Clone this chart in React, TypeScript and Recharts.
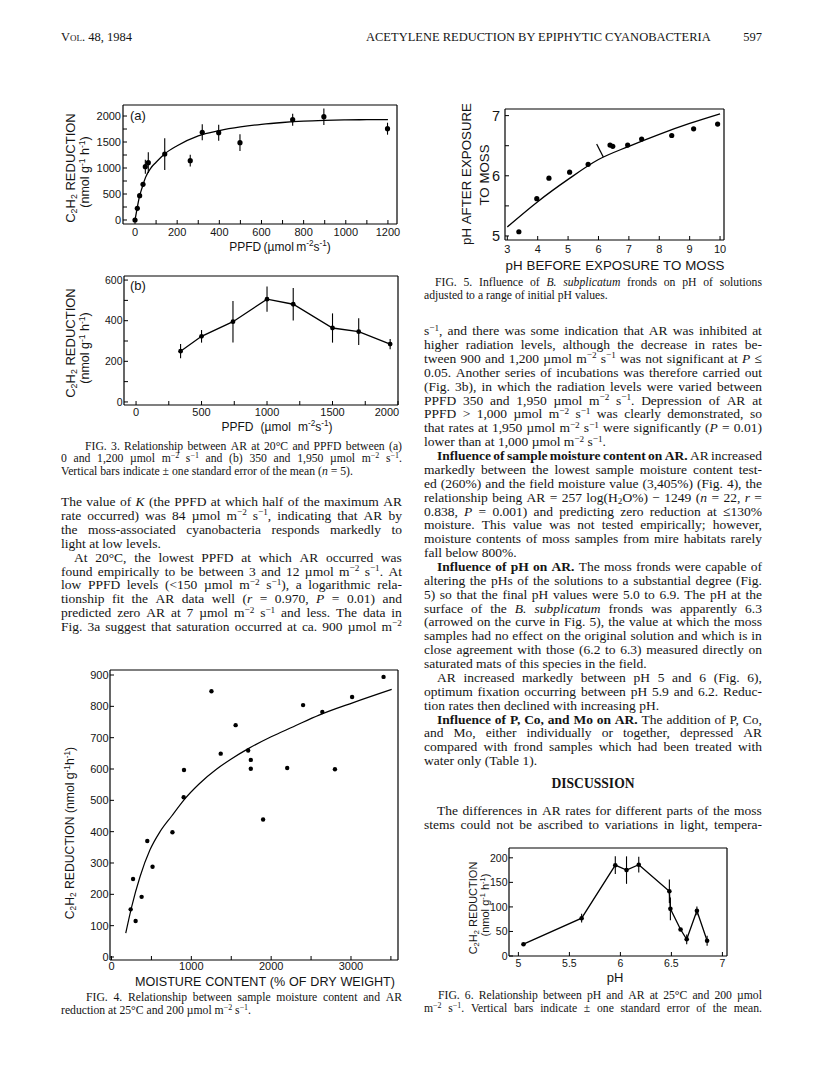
import React from 'react';
import { ComposedChart, Scatter, Line, XAxis, YAxis, ErrorBar, ReferenceLine } from 'recharts';

// ---------------- DATA ----------------
// Fig. 3a : AR vs PPFD (0 - 1,200)
const fig3aPpfd = [0, 11, 22, 38, 49, 63, 141, 262, 319, 397, 498, 748, 896, 1198];
const fig3aAr = [0, 224, 468, 686, 1026, 1103, 1269, 1141, 1686, 1679, 1487, 1929, 1987, 1756];
const fig3aSe = [0, 0, 0, 40, 135, 200, 305, 112, 154, 154, 160, 115, 160, 115];
const fig3aCurvePpfd = [0, 10, 20, 35, 50, 75, 100, 140, 200, 300, 400, 500, 600, 700, 800, 900, 1000, 1100, 1200];
const fig3aCurveAr = [0, 224, 430, 640, 820, 1000, 1110, 1269, 1429, 1620, 1720, 1790, 1840, 1875, 1900, 1915, 1925, 1930, 1932];
const fig3aXMajor = [0, 200, 400, 600, 800, 1000, 1200];
const fig3aXLabels = ['0', '200', '400', '600', '800', '1000', '1200'];
const fig3aXMinor = [100, 300, 500, 700, 900, 1100];
const fig3aYMajor = [0, 500, 1000, 1500, 2000];
const fig3aYLabels = ['0', '500', '1000', '1500', '2000'];
const fig3aYMinor = [250, 750, 1250, 1750];

// Fig. 3b : AR vs PPFD (350 - 1,950)
const fig3bPpfd = [340, 500, 740, 1000, 1200, 1500, 1700, 1940];
const fig3bAr = [250, 323, 395, 506, 481, 364, 346, 285];
const fig3bSe = [35, 31, 102, 62, 80, 72, 66, 25];
const fig3bXMajor = [0, 500, 1000, 1500, 2000];
const fig3bXLabels = ['0', '500', '1000', '1500', '2000'];
const fig3bXMinor = [250, 750, 1250, 1750];
const fig3bYMajor = [0, 200, 400, 600];
const fig3bYLabels = ['0', '200', '400', '600'];
const fig3bYMinor = [100, 300, 500];

// Fig. 4 : AR vs moisture content
const fig4Moisture = [3408, 1252, 3014, 2400, 2641, 1555, 1368, 1712, 1745, 1745, 908, 2201, 2799, 904, 1899, 763, 448, 514, 270, 377, 240, 302];
const fig4Ar = [894, 848, 830, 804, 782, 740, 649, 659, 629, 601, 597, 603, 599, 510, 439, 398, 370, 288, 249, 192, 152, 115];
const fig4CurveMoisture = [178, 253, 357, 482, 608, 754, 906, 1100, 1318, 1500, 1714, 2000, 2278, 2600, 3029, 3510];
const fig4CurveAr = [76, 161, 256, 342, 400, 450, 501, 553, 600, 632, 665, 703, 735, 772, 812, 854];
const fig4XMajor = [0, 1000, 2000, 3000];
const fig4XLabels = ['0', '1000', '2000', '3000'];
const fig4XMinor = [500, 1500, 2500, 3500];
const fig4YMajor = [0, 100, 200, 300, 400, 500, 600, 700, 800, 900];
const fig4YLabels = ['0', '100', '200', '300', '400', '500', '600', '700', '800', '900'];

// Fig. 5 : pH after vs pH before exposure
const fig5Before = [3.38, 3.97, 4.37, 5.05, 5.66, 6.38, 6.47, 6.96, 7.42, 8.41, 9.13, 9.92];
const fig5After = [5.07, 5.62, 5.96, 6.06, 6.19, 6.51, 6.49, 6.51, 6.61, 6.67, 6.78, 6.86];
const fig5CurveBefore = [3, 4, 5, 6, 7, 8, 9, 10];
const fig5CurveAfter = [5.15, 5.57, 5.94, 6.27, 6.49, 6.69, 6.87, 7.03];
const fig5ArrowBefore = [5.94, 6.16];
const fig5ArrowAfter = [6.53, 6.31];
const fig5XMajor = [3, 4, 5, 6, 7, 8, 9, 10];
const fig5XLabels = ['3', '4', '5', '6', '7', '8', '9', '10'];
const fig5YMajor = [5, 6, 7];
const fig5YLabels = ['5', '6', '7'];
const fig5YMinor = [5.5, 6.5];

// Fig. 6 : AR vs pH
const fig6Ph = [5.05, 5.62, 5.95, 6.06, 6.18, 6.48, 6.49, 6.59, 6.65, 6.75, 6.85];
const fig6Ar = [24, 77, 185, 175, 186, 132, 96, 54, 34, 92, 31];
const fig6Se = [2, 9, 18, 28, 16, 24, 23, 3, 10, 9, 10];
const fig6XMajor = [5, 5.5, 6, 6.5, 7];
const fig6XLabels = ['5', '5.5', '6', '6.5', '7'];
const fig6YMajor = [0, 50, 100, 150, 200];
const fig6YLabels = ['0', '50', '100', '150', '200'];

// ---------------- helpers ----------------
const SANS = '"Liberation Sans", Arial, sans-serif';
const SERIF = '"Liberation Serif", "Times New Roman", serif';
const INK = '#141414';

const zip = (xs: number[], ys: number[], es?: number[]) =>
  xs.map((x, i) => ({ x, y: ys[i], e: es ? es[i] : 0 }));

function rich(src: string) {
  let bold = false;
  let ital = false;
  const words = src.split(' ').filter((w) => w.length > 0);
  return words.map((w, wi) => {
    const segs: React.ReactNode[] = [];
    let buf = '';
    let k = 0;
    const st = (): React.CSSProperties => ({ fontWeight: bold ? 700 : 400, fontStyle: ital ? 'italic' : 'normal' });
    const flush = () => {
      if (buf) {
        segs.push(<span key={k++} style={st()}>{buf}</span>);
        buf = '';
      }
    };
    for (let i = 0; i < w.length; ) {
      const c = w[i];
      if (c === '*') { flush(); ital = !ital; i++; continue; }
      if (c === '#') { flush(); bold = !bold; i++; continue; }
      if ((c === '^' || c === '_') && w[i + 1] === '{') {
        flush();
        const end = w.indexOf('}', i);
        const inner = w.slice(i + 2, end);
        segs.push(
          <span key={k++} style={{ ...st(), fontSize: '0.68em', lineHeight: 0, position: 'relative', top: c === '^' ? '-0.5em' : '0.25em' }}>{inner}</span>
        );
        i = end + 1;
        continue;
      }
      buf += c;
      i++;
    }
    flush();
    return <span key={wi} style={{ whiteSpace: 'nowrap' }}>{segs}</span>;
  });
}

function TL({ x, w, y, size, text, j = false, lh = 13, center = false, font = SERIF, gap }: {
  x: number; w: number; y: number; size: number; text: string; j?: boolean; lh?: number; center?: boolean; font?: string; gap?: string;
}) {
  return (
    <div style={{
      position: 'absolute', left: x, top: y - lh / 2, width: w, height: lh, lineHeight: lh + 'px',
      fontSize: size, fontFamily: font, color: INK, display: 'flex', alignItems: 'baseline',
      justifyContent: center ? 'center' : j ? 'space-between' : 'flex-start',
      gap: gap ?? (j ? '0.14em' : '0.25em'), whiteSpace: 'nowrap',
    }}>{rich(text)}</div>
  );
}

function VT({ cx, cy, size, text }: { cx: number; cy: number; size: number; text: string }) {
  return (
    <div style={{
      position: 'absolute', left: cx, top: cy, transform: 'translate(-50%, -50%) rotate(-90deg)',
      fontFamily: SANS, fontSize: size, color: INK, whiteSpace: 'nowrap', lineHeight: 1,
      display: 'flex', gap: '0.28em', alignItems: 'baseline',
    }}>{rich(text)}</div>
  );
}

type LineSpec = [number, boolean, string];
function Para({ x, w, y0, step, size, lines }: { x: number; w: number; y0: number; step: number; size: number; lines: LineSpec[] }) {
  return (
    <>
      {lines.map(([ind, j, t], i) => (
        <TL key={i} x={x + ind} w={w - ind} y={y0 + i * step} size={size} j={j} text={t} lh={Math.min(13, step - 0.6)} />
      ))}
    </>
  );
}

type AxisSpec = { domain: [number, number]; major: number[]; labels: string[]; minor: number[]; font: number; gap: number; lastShift?: number };
type FrameSpec = { x0: number; y0: number; x1: number; y1: number; yw: number; xh: number; tickLen: number; x: AxisSpec; y: AxisSpec };

function layout(f: FrameSpec) {
  const mt = 8;
  const mr = 14;
  return {
    style: { position: 'absolute', left: f.x0 - f.yw, top: f.y0 - mt - 1 } as React.CSSProperties,
    width: f.yw + (f.x1 - f.x0) + 1 + mr,
    height: mt + 1 + (f.y1 - f.y0) + f.xh,
    margin: { top: mt, right: mr, bottom: 0, left: 0 },
  };
}

function tickRenderer(spec: AxisSpec, side: 'x' | 'y') {
  return (p: any) => {
    const v = p.payload.value;
    const idx = spec.major.findIndex((m) => Math.abs(m - v) < 1e-9);
    if (idx < 0) return <g />;
    const shift = side === 'x' && idx === spec.major.length - 1 ? spec.lastShift ?? 0 : 0;
    return (
      <text x={p.x + shift} y={p.y} dy="0.36em" textAnchor={side === 'x' ? 'middle' : 'end'} fontSize={spec.font} fontFamily={SANS} fill={INK}>
        {spec.labels[idx]}
      </text>
    );
  };
}

function frameAxes(f: FrameSpec) {
  const xt = [...f.x.major, ...f.x.minor].sort((a, b) => a - b);
  const yt = [...f.y.major, ...f.y.minor].sort((a, b) => a - b);
  const line = { stroke: '#000', strokeWidth: 1.2 };
  const tl = { stroke: '#000', strokeWidth: 1 };
  return [
    <XAxis key="xb" xAxisId="b" type="number" dataKey="x" domain={f.x.domain} ticks={xt} interval={0} allowDataOverflow
      height={f.xh} tickSize={-f.tickLen} tickMargin={f.tickLen + f.x.gap} tick={tickRenderer(f.x, 'x')} axisLine={line} tickLine={tl} />,
    <XAxis key="xt" xAxisId="t" orientation="top" type="number" dataKey="x" domain={f.x.domain} ticks={xt} interval={0} allowDataOverflow
      height={1} tickSize={-f.tickLen} tick={false} axisLine={line} tickLine={tl} />,
    <YAxis key="yl" yAxisId="l" type="number" domain={f.y.domain} ticks={yt} interval={0} allowDataOverflow
      width={f.yw} tickSize={-f.tickLen} tickMargin={f.tickLen + f.y.gap} tick={tickRenderer(f.y, 'y')} axisLine={line} tickLine={tl} />,
    <YAxis key="yr" yAxisId="r" orientation="right" type="number" domain={f.y.domain} ticks={yt} interval={0} allowDataOverflow
      width={1} tickSize={-f.tickLen} tick={false} axisLine={line} tickLine={tl} />,
  ];
}

const dot = (r: number) => (p: any) => <circle cx={p.cx} cy={p.cy} r={r} fill="#000" />;

// ---------------- chart frames ----------------
const f3a: FrameSpec = {
  x0: 123, y0: 105, x1: 397, y1: 224, yw: 42, xh: 24, tickLen: 4,
  x: { domain: [-57, 1243], major: fig3aXMajor, labels: fig3aXLabels, minor: fig3aXMinor, font: 11, gap: 8 },
  y: { domain: [-77, 2212], major: fig3aYMajor, labels: fig3aYLabels, minor: fig3aYMinor, font: 11, gap: 2 },
};
const f3b: FrameSpec = {
  x0: 124, y0: 276, x1: 398, y1: 405, yw: 42, xh: 24, tickLen: 4,
  x: { domain: [-92, 2000], major: fig3bXMajor, labels: fig3bXLabels, minor: fig3bXMinor, font: 11, gap: 7, lastShift: -11 },
  y: { domain: [-15, 620], major: fig3bYMajor, labels: fig3bYLabels, minor: fig3bYMinor, font: 10.5, gap: 1.5 },
};
const f4: FrameSpec = {
  x0: 110, y0: 670, x1: 398, y1: 960, yw: 40, xh: 20, tickLen: 4,
  x: { domain: [-19, 3589], major: fig4XMajor, labels: fig4XLabels, minor: fig4XMinor, font: 11, gap: 6 },
  y: { domain: [-9.6, 916], major: fig4YMajor, labels: fig4YLabels, minor: [], font: 11, gap: 1.5 },
};
const f5: FrameSpec = {
  x0: 505, y0: 109, x1: 724, y1: 240, yw: 40, xh: 20, tickLen: 4,
  x: { domain: [2.924, 10.13], major: fig5XMajor, labels: fig5XLabels, minor: [], font: 11, gap: 9.5 },
  y: { domain: [4.933, 7.11], major: fig5YMajor, labels: fig5YLabels, minor: fig5YMinor, font: 14.5, gap: 5 },
};
const f6: FrameSpec = {
  x0: 509, y0: 848, x1: 727, y1: 956, yw: 40, xh: 20, tickLen: 4,
  x: { domain: [4.908, 7.045], major: fig6XMajor, labels: fig6XLabels, minor: [], font: 10.5, gap: 7 },
  y: { domain: [0, 220], major: fig6YMajor, labels: fig6YLabels, minor: [], font: 10.5, gap: 1.5 },
};

function Fig3a() {
  const L = layout(f3a);
  return (
    <div style={L.style}>
      <ComposedChart width={L.width} height={L.height} margin={L.margin}>
        {frameAxes(f3a)}
        <Line data={zip(fig3aCurvePpfd, fig3aCurveAr)} dataKey="y" xAxisId="b" yAxisId="l" type="monotone" dot={false}
          stroke="#000" strokeWidth={1.3} isAnimationActive={false} />
        <Scatter data={zip(fig3aPpfd, fig3aAr, fig3aSe)} dataKey="y" xAxisId="b" yAxisId="l" shape={dot(2.6)} isAnimationActive={false}>
          <ErrorBar dataKey="e" width={0} stroke="#000" strokeWidth={1.1} direction="y" />
        </Scatter>
      </ComposedChart>
    </div>
  );
}

function Fig3b() {
  const L = layout(f3b);
  return (
    <div style={L.style}>
      <ComposedChart width={L.width} height={L.height} margin={L.margin}>
        {frameAxes(f3b)}
        <Line data={zip(fig3bPpfd, fig3bAr, fig3bSe)} dataKey="y" xAxisId="b" yAxisId="l" type="linear"
          dot={{ r: 2.4, fill: '#000', stroke: '#000', strokeWidth: 0 }} stroke="#000" strokeWidth={1.3} isAnimationActive={false}>
          <ErrorBar dataKey="e" width={0} stroke="#000" strokeWidth={1.1} direction="y" />
        </Line>
      </ComposedChart>
    </div>
  );
}

function Fig4() {
  const L = layout(f4);
  return (
    <div style={L.style}>
      <ComposedChart width={L.width} height={L.height} margin={L.margin}>
        {frameAxes(f4)}
        <Line data={zip(fig4CurveMoisture, fig4CurveAr)} dataKey="y" xAxisId="b" yAxisId="l" type="monotone" dot={false}
          stroke="#000" strokeWidth={1.2} isAnimationActive={false} />
        <Scatter data={zip(fig4Moisture, fig4Ar)} dataKey="y" xAxisId="b" yAxisId="l" shape={dot(2.2)} isAnimationActive={false} />
      </ComposedChart>
    </div>
  );
}

function Fig5() {
  const L = layout(f5);
  return (
    <div style={L.style}>
      <ComposedChart width={L.width} height={L.height} margin={L.margin}>
        {frameAxes(f5)}
        <Line data={zip(fig5CurveBefore, fig5CurveAfter)} dataKey="y" xAxisId="b" yAxisId="l" type="monotone" dot={false}
          stroke="#000" strokeWidth={1.3} isAnimationActive={false} />
        <Scatter data={zip(fig5Before, fig5After)} dataKey="y" xAxisId="b" yAxisId="l" shape={dot(2.6)} isAnimationActive={false} />
        <ReferenceLine xAxisId="b" yAxisId="l" ifOverflow="visible" stroke="#000" strokeWidth={1.2}
          segment={[{ x: fig5ArrowBefore[0], y: fig5ArrowAfter[0] }, { x: fig5ArrowBefore[1], y: fig5ArrowAfter[1] }]} />
      </ComposedChart>
    </div>
  );
}

function Fig6() {
  const L = layout(f6);
  return (
    <div style={L.style}>
      <ComposedChart width={L.width} height={L.height} margin={L.margin}>
        {frameAxes(f6)}
        <Line data={zip(fig6Ph, fig6Ar, fig6Se)} dataKey="y" xAxisId="b" yAxisId="l" type="linear"
          dot={{ r: 2.3, fill: '#000', stroke: '#000', strokeWidth: 0 }} stroke="#000" strokeWidth={1.3} isAnimationActive={false}>
          <ErrorBar dataKey="e" width={0} stroke="#000" strokeWidth={1.1} direction="y" />
        </Line>
      </ComposedChart>
    </div>
  );
}

// ---------------- text ----------------
const LX = 61, LW = 341, RX = 424, RW = 338;
const BODY = 13.5, STEP = 13.87, CAP = 11.7, CSTEP = 12.8;

const fig3Caption: LineSpec[] = [
  [24, true, 'FIG. 3. Relationship between AR at 20°C and PPFD between (a)'],
  [0, true, '0 and 1,200 µmol m^{−2} s^{−1} and (b) 350 and 1,950 µmol m^{−2} s^{−1}.'],
  [0, false, 'Vertical bars indicate ± one standard error of the mean (*n* = 5).'],
];
const leftPara: LineSpec[] = [
  [0, true, 'The value of *K* (the PPFD at which half of the maximum AR'],
  [0, true, 'rate occurred) was 84 µmol m^{−2} s^{−1}, indicating that AR by'],
  [0, true, 'the moss-associated cyanobacteria responds markedly to'],
  [0, false, 'light at low levels.'],
  [13, true, 'At 20°C, the lowest PPFD at which AR occurred was'],
  [0, true, 'found empirically to be between 3 and 12 µmol m^{−2} s^{−1}. At'],
  [0, true, 'low PPFD levels (<150 µmol m^{−2} s^{−1}), a logarithmic rela-'],
  [0, true, 'tionship fit the AR data well (*r* = 0.970, *P* = 0.01) and'],
  [0, true, 'predicted zero AR at 7 µmol m^{−2} s^{−1} and less. The data in'],
  [0, true, 'Fig. 3a suggest that saturation occurred at ca. 900 µmol m^{−2}'],
];
const fig4Caption: LineSpec[] = [
  [25, true, 'FIG. 4. Relationship between sample moisture content and AR'],
  [0, false, 'reduction at 25°C and 200 µmol m^{−2} s^{−1}.'],
];
const fig5Caption: LineSpec[] = [
  [11, true, 'FIG. 5. Influence of *B. subplicatum* fronds on pH of solutions'],
  [0, false, 'adjusted to a range of initial pH values.'],
];
const rightPara: LineSpec[] = [
  [0, true, 's^{−1}, and there was some indication that AR was inhibited at'],
  [0, true, 'higher radiation levels, although the decrease in rates be-'],
  [0, true, 'tween 900 and 1,200 µmol m^{−2} s^{−1} was not significant at *P* ≤'],
  [0, true, '0.05. Another series of incubations was therefore carried out'],
  [0, true, '(Fig. 3b), in which the radiation levels were varied between'],
  [0, true, 'PPFD 350 and 1,950 µmol m^{−2} s^{−1}. Depression of AR at'],
  [0, true, 'PPFD > 1,000 µmol m^{−2} s^{−1} was clearly demonstrated, so'],
  [0, true, 'that rates at 1,950 µmol m^{−2} s^{−1} were significantly (*P* = 0.01)'],
  [0, false, 'lower than at 1,000 µmol m^{−2} s^{−1}.'],
  [13, true, '#Influence of sample moisture content on AR.# AR increased'],
  [0, true, 'markedly between the lowest sample moisture content test-'],
  [0, true, 'ed (260%) and the field moisture value (3,405%) (Fig. 4), the'],
  [0, true, 'relationship being AR = 257 log(H_{2}O%) − 1249 (*n* = 22, *r* ='],
  [0, true, '0.838, *P* = 0.001) and predicting zero reduction at ≤130%'],
  [0, true, 'moisture. This value was not tested empirically; however,'],
  [0, true, 'moisture contents of moss samples from mire habitats rarely'],
  [0, false, 'fall below 800%.'],
  [13, true, '#Influence of pH on AR.# The moss fronds were capable of'],
  [0, true, 'altering the pHs of the solutions to a substantial degree (Fig.'],
  [0, true, '5) so that the final pH values were 5.0 to 6.9. The pH at the'],
  [0, true, 'surface of the *B. subplicatum* fronds was apparently 6.3'],
  [0, true, '(arrowed on the curve in Fig. 5), the value at which the moss'],
  [0, true, 'samples had no effect on the original solution and which is in'],
  [0, true, 'close agreement with those (6.2 to 6.3) measured directly on'],
  [0, false, 'saturated mats of this species in the field.'],
  [13, true, 'AR increased markedly between pH 5 and 6 (Fig. 6),'],
  [0, true, 'optimum fixation occurring between pH 5.9 and 6.2. Reduc-'],
  [0, false, 'tion rates then declined with increasing pH.'],
  [13, true, '#Influence of P, Co, and Mo on AR.# The addition of P, Co,'],
  [0, true, 'and Mo, either individually or together, depressed AR'],
  [0, true, 'compared with frond samples which had been treated with'],
  [0, false, 'water only (Table 1).'],
];
const discussionPara: LineSpec[] = [
  [13, true, 'The differences in AR rates for different parts of the moss'],
  [0, true, 'stems could not be ascribed to variations in light, tempera-'],
];
const fig6Caption: LineSpec[] = [
  [14, true, 'FIG. 6. Relationship between pH and AR at 25°C and 200 µmol'],
  [0, true, 'm^{−2} s^{−1}. Vertical bars indicate ± one standard error of the mean.'],
];

export default function App() {
  return (
    <div style={{ position: 'absolute', left: 0, top: 0, width: 816, height: 1088, background: '#fff', overflow: 'hidden', fontFamily: SERIF, color: INK }}>
      {/* running head */}
      <div style={{ position: 'absolute', left: LX, top: 30, fontSize: 12.5, fontVariant: 'small-caps', whiteSpace: 'nowrap' }}>Vol. 48, 1984</div>
      <div style={{ position: 'absolute', left: 366, top: 30, fontSize: 12.5, whiteSpace: 'nowrap' }}>ACETYLENE REDUCTION BY EPIPHYTIC CYANOBACTERIA</div>
      <div style={{ position: 'absolute', left: 702, width: 60, textAlign: 'right', top: 30, fontSize: 12.5 }}>597</div>

      {/* Fig 3a */}
      <Fig3a />
      <TL x={130} w={40} y={115} size={13} font={SANS} text="(a)" />
      <VT cx={70} cy={168} size={13} text="C_{2}H_{2} REDUCTION" />
      <VT cx={85} cy={172} size={12.5} text="(nmol g^{-1} h^{-1})" />
      <TL x={160} w={240} y={247} size={12} font={SANS} center text="PPFD (µmol m^{-2}s^{-1})" gap="0.2em" />

      {/* Fig 3b */}
      <Fig3b />
      <TL x={130} w={40} y={285} size={13} font={SANS} text="(b)" />
      <VT cx={70} cy={343} size={13} text="C_{2}H_{2} REDUCTION" />
      <VT cx={85} cy={348} size={12.5} text="(nmol g^{-1} h^{-1})" />
      <TL x={157} w={240} y={427} size={12} font={SANS} center text="PPFD (µmol m^{-2}s^{-1})" gap="0.6em" />

      <Para x={LX} w={LW} y0={446.7} step={CSTEP} size={CAP} lines={fig3Caption} />
      <Para x={LX} w={LW} y0={501.7} step={STEP} size={BODY} lines={leftPara} />

      {/* Fig 4 */}
      <Fig4 />
      <VT cx={70} cy={833} size={12.2} text="C_{2}H_{2} REDUCTION (nmol g^{-1}h^{-1})" />
      <TL x={100} w={330} y={982} size={12.6} font={SANS} center text="MOISTURE CONTENT (% OF DRY WEIGHT)" gap="0.3em" />
      <Para x={LX} w={LW} y0={998.3} step={CSTEP} size={CAP} lines={fig4Caption} />

      {/* Fig 5 */}
      <Fig5 />
      <VT cx={467} cy={174} size={13.3} text="pH AFTER EXPOSURE" />
      <VT cx={485} cy={175} size={13.3} text="TO MOSS" />
      <TL x={495} w={240} y={265} size={13.3} font={SANS} center text="pH BEFORE EXPOSURE TO MOSS" gap="0.3em" />
      <Para x={RX} w={RW} y0={283.3} step={13.2} size={CAP} lines={fig5Caption} />

      <Para x={RX} w={RW} y0={330.7} step={STEP} size={BODY} lines={rightPara} />
      <TL x={RX} w={RW} y={783.3} size={13.6} center text="#DISCUSSION#" />
      <Para x={RX} w={RW} y0={810.7} step={STEP} size={BODY} lines={discussionPara} />

      {/* Fig 6 */}
      <Fig6 />
      <VT cx={473} cy={908} size={11} text="C_{2}H_{2} REDUCTION" />
      <VT cx={485} cy={905} size={11} text="(nmol g^{-1} h^{-1})" />
      <TL x={580} w={70} y={977} size={13} font={SANS} center text="pH" />
      <Para x={RX} w={RW} y0={996} step={CSTEP} size={CAP} lines={fig6Caption} />
    </div>
  );
}
